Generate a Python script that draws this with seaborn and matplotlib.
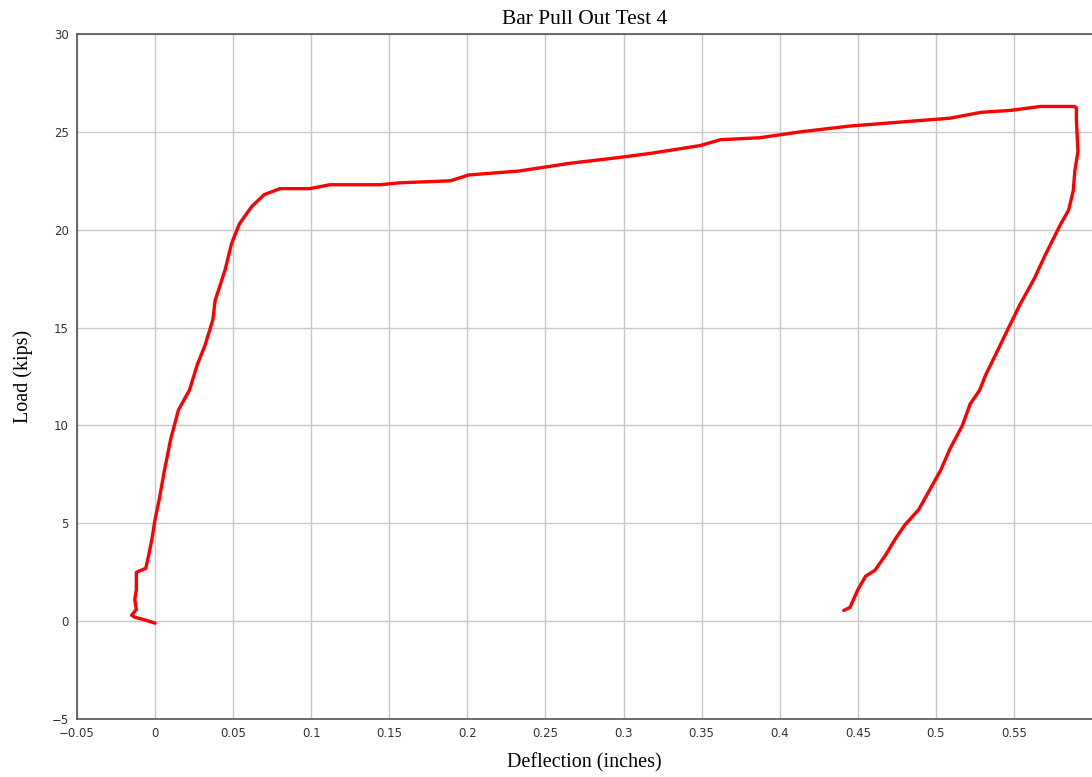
import numpy as np
import pandas as pd
import matplotlib
matplotlib.use("Agg")
import matplotlib.pyplot as plt
import seaborn as sns

# --- Data ---
# loading branch (deflection in inches, load in kips)
load_defl = [0.000, -0.006, -0.013, -0.015, -0.012, -0.013, -0.012, -0.012, -0.006,
             -0.004, -0.002, 0.000, 0.0026, 0.006, 0.010, 0.015, 0.022, 0.027,
             0.032, 0.037, 0.0385, 0.041, 0.045, 0.049, 0.054, 0.062, 0.070,
             0.080, 0.099, 0.112, 0.144, 0.157, 0.189, 0.201, 0.233, 0.266,
             0.298, 0.317, 0.349, 0.362, 0.387, 0.413, 0.445, 0.477, 0.509,
             0.529, 0.548, 0.567, 0.589]
load_kips = [-0.1, 0.05, 0.2, 0.3, 0.6, 1.1, 1.6, 2.5, 2.7,
             3.4, 4.2, 5.2, 6.2, 7.7, 9.3, 10.8, 11.8, 13.1,
             14.1, 15.4, 16.4, 17.0, 18.0, 19.3, 20.3, 21.2, 21.8,
             22.1, 22.1, 22.3, 22.3, 22.4, 22.5, 22.8, 23.0, 23.4,
             23.7, 23.9, 24.3, 24.6, 24.7, 25.0, 25.3, 25.5, 25.7,
             26.0, 26.1, 26.3, 26.3]
# unloading branch
unload_defl = [0.590, 0.590, 0.591, 0.589, 0.588, 0.585, 0.580, 0.575, 0.570,
               0.563, 0.554, 0.546, 0.540, 0.532, 0.528, 0.522, 0.517, 0.509,
               0.503, 0.496, 0.489, 0.480, 0.474, 0.468, 0.461, 0.455, 0.450,
               0.445, 0.441]
unload_kips = [26.2, 25.6, 24.0, 23.0, 22.0, 21.0, 20.3, 19.5, 18.7,
               17.5, 16.2, 14.9, 13.9, 12.6, 11.8, 11.1, 10.0, 8.8,
               7.7, 6.7, 5.7, 4.9, 4.2, 3.4, 2.6, 2.3, 1.6,
               0.7, 0.55]

x_ticks = [-0.05, 0, 0.05, 0.1, 0.15, 0.2, 0.25, 0.3, 0.35, 0.4, 0.45, 0.5, 0.55]
x_tick_labels = ["\u22120.05", "0", "0.05", "0.1", "0.15", "0.2", "0.25", "0.3",
                 "0.35", "0.4", "0.45", "0.5", "0.55"]
y_ticks = [-5, 0, 5, 10, 15, 20, 25, 30]

df = pd.DataFrame({
    "defl": load_defl + unload_defl,
    "load": load_kips + unload_kips,
})

sns.set_theme(style="white")
fig = plt.figure(figsize=(10.92, 7.77), dpi=100)
ax = fig.add_axes([0.0705, 0.0746, 0.9295, 0.8816])

sns.lineplot(data=df, x="defl", y="load", sort=False, estimator=None,
             color="#ff0000", linewidth=2.4, ax=ax)

ax.set_xlim(-0.05, 0.6)
ax.set_ylim(-5, 30)
ax.set_xticks(x_ticks)
ax.set_xticklabels(x_tick_labels)
ax.set_yticks(y_ticks)
ax.grid(True, color="#c8c8c8", linewidth=1.0)
ax.set_axisbelow(True)
ax.tick_params(length=0, labelsize=8.5, labelcolor="#333333", pad=6)

for side in ["left", "bottom", "top"]:
    ax.spines[side].set_color("#555555")
    ax.spines[side].set_linewidth(1.2)
ax.spines["right"].set_visible(False)

serif = ["Liberation Serif", "DejaVu Serif"]
ax.set_title("Bar Pull Out Test 4", family=serif, fontsize=15.5, pad=7, color="black")
ax.set_xlabel("Deflection (inches)", family=serif, fontsize=14.5, labelpad=9, color="black")
ax.set_ylabel("Load (kips)", family=serif, fontsize=14.5, labelpad=13, color="black")

fig.savefig("out.png", dpi=100)
